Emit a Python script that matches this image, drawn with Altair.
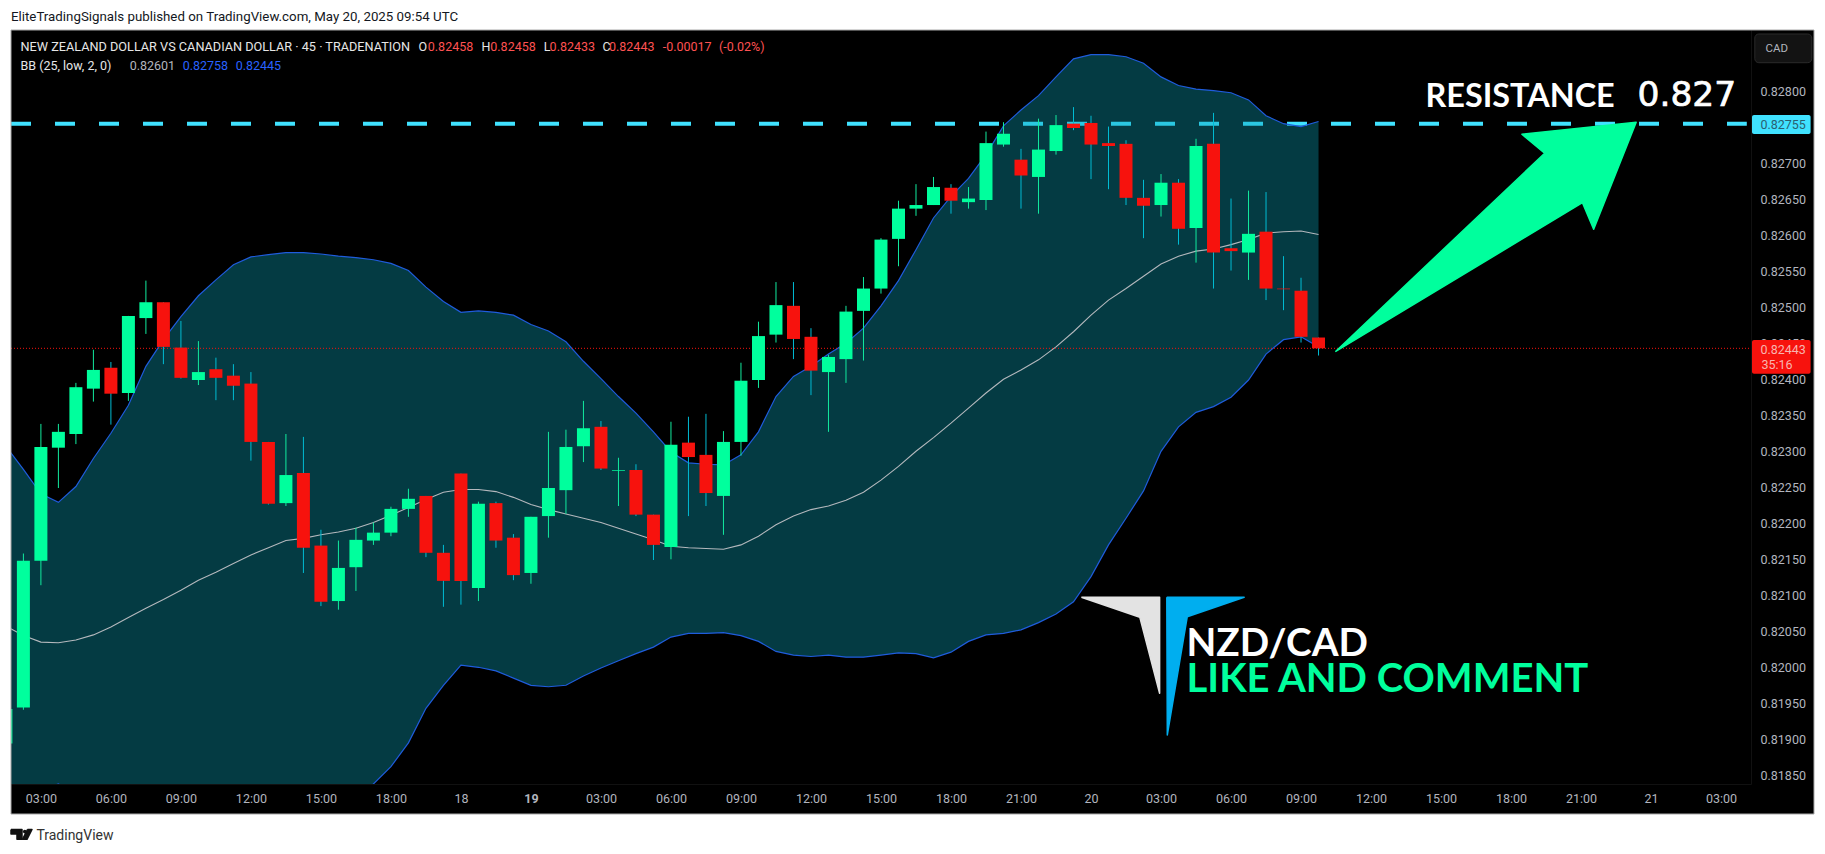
# NZD/CAD 45 min candles with Bollinger bands, TradingView style
import json

import altair as alt
import pandas as pd

bar_index = list(range(-1, 75))
bar_open = [0.81894, 0.81944, 0.82148, 0.82305, 0.82324, 0.82387, 0.82416, 0.82381, 0.82485, 0.82507,
            0.82444, 0.82399, 0.82414, 0.82405, 0.82394, 0.82313, 0.82228, 0.82270, 0.82169, 0.82092,
            0.82139, 0.82176, 0.82187, 0.82220, 0.82238, 0.82159, 0.82269, 0.82110, 0.82228, 0.82180,
            0.82131, 0.82210, 0.82246, 0.82307, 0.82334, 0.82273, 0.82274, 0.82212, 0.82167, 0.82312,
            0.82295, 0.82238, 0.82313, 0.82399, 0.82462, 0.82502, 0.82459, 0.82410, 0.82428, 0.82495,
            0.82526, 0.82595, 0.82637, 0.82642, 0.82666, 0.82646, 0.82649, 0.82726, 0.82705, 0.82681,
            0.82717, 0.82755, 0.82756, 0.82728, 0.82727, 0.82652, 0.82642, 0.82673, 0.82610, 0.82727,
            0.82582, 0.82576, 0.82605, 0.82526, 0.82523, 0.82458]
bar_high = [0.81942, 0.82158, 0.82338, 0.82338, 0.82395, 0.82441, 0.82424, 0.82488, 0.82537, 0.82507,
            0.82481, 0.82453, 0.82430, 0.82421, 0.82410, 0.82313, 0.82324, 0.82320, 0.82191, 0.82176,
            0.82194, 0.82201, 0.82223, 0.82248, 0.82238, 0.82170, 0.82269, 0.82230, 0.82230, 0.82185,
            0.82209, 0.82327, 0.82330, 0.82370, 0.82342, 0.82291, 0.82282, 0.82212, 0.82341, 0.82348,
            0.82352, 0.82328, 0.82423, 0.82480, 0.82535, 0.82535, 0.82471, 0.82434, 0.82502, 0.82542,
            0.82596, 0.82648, 0.82671, 0.82681, 0.82671, 0.82667, 0.82744, 0.82757, 0.82720, 0.82762,
            0.82767, 0.82778, 0.82766, 0.82751, 0.82732, 0.82677, 0.82685, 0.82678, 0.82734, 0.82770,
            0.82651, 0.82662, 0.82660, 0.82571, 0.82541, 0.82458]
bar_low = [0.81894, 0.81941, 0.82114, 0.82249, 0.82310, 0.82369, 0.82337, 0.82370, 0.82463, 0.82421,
           0.82401, 0.82392, 0.82371, 0.82371, 0.82287, 0.82226, 0.82224, 0.82131, 0.82085, 0.82080,
           0.82106, 0.82170, 0.82182, 0.82209, 0.82153, 0.82084, 0.82087, 0.82092, 0.82166, 0.82121,
           0.82116, 0.82180, 0.82213, 0.82285, 0.82274, 0.82224, 0.82210, 0.82149, 0.82150, 0.82210,
           0.82224, 0.82184, 0.82294, 0.82388, 0.82451, 0.82428, 0.82378, 0.82327, 0.82395, 0.82426,
           0.82519, 0.82557, 0.82627, 0.82642, 0.82630, 0.82637, 0.82635, 0.82723, 0.82637, 0.82630,
           0.82712, 0.82746, 0.82678, 0.82664, 0.82642, 0.82596, 0.82626, 0.82587, 0.82562, 0.82526,
           0.82551, 0.82538, 0.82510, 0.82496, 0.82451, 0.82433]
bar_close = [0.81942, 0.82148, 0.82306, 0.82327, 0.82389, 0.82413, 0.82380, 0.82488, 0.82507, 0.82445,
             0.82402, 0.82410, 0.82402, 0.82391, 0.82313, 0.82227, 0.82267, 0.82166, 0.82091, 0.82138,
             0.82177, 0.82187, 0.82220, 0.82234, 0.82159, 0.82120, 0.82120, 0.82227, 0.82176, 0.82128,
             0.82209, 0.82249, 0.82306, 0.82332, 0.82276, 0.82274, 0.82212, 0.82170, 0.82309, 0.82292,
             0.82242, 0.82313, 0.82398, 0.82460, 0.82503, 0.82456, 0.82412, 0.82431, 0.82494, 0.82526,
             0.82594, 0.82637, 0.82642, 0.82667, 0.82648, 0.82651, 0.82728, 0.82741, 0.82683, 0.82719,
             0.82753, 0.82749, 0.82726, 0.82724, 0.82652, 0.82641, 0.82673, 0.82609, 0.82724, 0.82576,
             0.82578, 0.82602, 0.82526, 0.82525, 0.82459, 0.82443]

bb_upper = [0.82307, 0.82275, 0.82241, 0.82229, 0.82251, 0.82290, 0.82325, 0.82364, 0.82418, 0.82455,
            0.82487, 0.82516, 0.82538, 0.82559, 0.82570, 0.82573, 0.82576, 0.82576, 0.82574, 0.82571,
            0.82569, 0.82566, 0.82561, 0.82551, 0.82528, 0.82508, 0.82493, 0.82495, 0.82493, 0.82489,
            0.82476, 0.82467, 0.82452, 0.82425, 0.82401, 0.82376, 0.82353, 0.82327, 0.82299, 0.82284,
            0.82282, 0.82281, 0.82295, 0.82327, 0.82376, 0.82404, 0.82418, 0.82435, 0.82450, 0.82471,
            0.82502, 0.82537, 0.82580, 0.82624, 0.82654, 0.82679, 0.82712, 0.82752, 0.82774, 0.82794,
            0.82820, 0.82845, 0.82851, 0.82851, 0.82848, 0.82839, 0.82820, 0.82808, 0.82803, 0.82801,
            0.82798, 0.82788, 0.82766, 0.82755, 0.82751, 0.82758]
bb_basis = [0.82057, 0.82044, 0.82035, 0.82034, 0.82038, 0.82045, 0.82056, 0.82069, 0.82082, 0.82094,
            0.82107, 0.82121, 0.82132, 0.82144, 0.82156, 0.82166, 0.82176, 0.82179, 0.82184, 0.82188,
            0.82193, 0.82201, 0.82211, 0.82222, 0.82233, 0.82243, 0.82247, 0.82247, 0.82244, 0.82236,
            0.82226, 0.82219, 0.82213, 0.82207, 0.82201, 0.82193, 0.82185, 0.82177, 0.82168, 0.82166,
            0.82165, 0.82164, 0.82170, 0.82182, 0.82198, 0.82210, 0.82219, 0.82224, 0.82232, 0.82243,
            0.82260, 0.82279, 0.82300, 0.82319, 0.82339, 0.82360, 0.82381, 0.82400, 0.82413, 0.82427,
            0.82445, 0.82466, 0.82489, 0.82510, 0.82526, 0.82543, 0.82560, 0.82571, 0.82578, 0.82581,
            0.82587, 0.82594, 0.82603, 0.82605, 0.82606, 0.82601]
bb_lower = [0.81798, 0.81810, 0.81829, 0.81838, 0.81825, 0.81800, 0.81786, 0.81773, 0.81747, 0.81732,
            0.81728, 0.81727, 0.81727, 0.81728, 0.81742, 0.81759, 0.81776, 0.81783, 0.81794, 0.81805,
            0.81817, 0.81838, 0.81862, 0.81895, 0.81943, 0.81975, 0.82003, 0.82000, 0.81995, 0.81985,
            0.81975, 0.81973, 0.81975, 0.81988, 0.81999, 0.82009, 0.82019, 0.82028, 0.82042, 0.82047,
            0.82047, 0.82048, 0.82044, 0.82036, 0.82022, 0.82017, 0.82015, 0.82017, 0.82014, 0.82014,
            0.82017, 0.82020, 0.82019, 0.82013, 0.82021, 0.82036, 0.82045, 0.82047, 0.82052, 0.82062,
            0.82074, 0.82091, 0.82126, 0.82170, 0.82207, 0.82245, 0.82300, 0.82334, 0.82354, 0.82362,
            0.82375, 0.82399, 0.82435, 0.82455, 0.82459, 0.82445]

resistance_price = 0.82755
last_price = 0.82443

price_ticks = [0.8185, 0.819, 0.8195, 0.82, 0.8205, 0.821, 0.8215, 0.822, 0.8225, 0.823, 0.8235,
               0.824, 0.8245, 0.825, 0.8255, 0.826, 0.8265, 0.827, 0.8275, 0.828]
time_ticks = [1, 5, 9, 13, 17, 21, 25, 29, 33, 37, 41, 45, 49, 53, 57, 61, 65, 69, 73,
              77, 81, 85, 89, 93, 97]
time_labels = ['03:00', '06:00', '09:00', '12:00', '15:00', '18:00', '18', '19', '03:00', '06:00',
               '09:00', '12:00', '15:00', '18:00', '21:00', '20', '03:00', '06:00', '09:00',
               '12:00', '15:00', '18:00', '21:00', '21', '03:00']

# drawings, in bar / price units
arrow_x = [74.96, 86.92, 85.62, 92.15, 89.72, 89.08]
arrow_y = [0.824383, 0.827139, 0.827403, 0.827569, 0.826083, 0.826453]
logo_grey_x = [60.45, 64.92, 64.92, 63.79]
logo_grey_y = [0.820972, 0.820972, 0.819639, 0.820694]
logo_blue_x = [65.33, 69.75, 66.50, 65.36]
logo_blue_y = [0.820972, 0.820972, 0.820703, 0.819060]
tv_left_x = [-0.708, -0.08, -0.08, -0.366, -0.366, -0.708]
tv_left_y = [0.817747, 0.817747, 0.817611, 0.817611, 0.817685, 0.817685]
tv_slash_x = [0.234, 0.491, 0.206, -0.051]
tv_slash_y = [0.817747, 0.817747, 0.817611, 0.817611]

GREEN = '#00ff9d'
RED = '#f7120d'
CYAN = '#40e2ff'
BLUE = '#1f5cdc'
GREY = '#b2b5be'
FONT = 'Roboto'

df = pd.DataFrame({'bar': bar_index, 'open': bar_open, 'high': bar_high, 'low': bar_low, 'close': bar_close,
                   'upper': bb_upper, 'basis': bb_basis, 'lower': bb_lower})
df['dir'] = ['up' if c >= o else 'down' for o, c in zip(bar_open, bar_close)]

# padding=0 or the bars make Vega-Lite shrink the range
x_scale = alt.Scale(domain=[-0.708, 98.71], nice=False, zero=False, padding=0)
y_scale = alt.Scale(domain=[0.818379, 0.828851], nice=False, zero=False)
x_axis = alt.Axis(title=None, values=time_ticks, grid=False, ticks=False, domainColor='#111111',
                  labelColor=GREY, labelFont=FONT, labelFontSize=12.5, labelPadding=8, labelOverlap=False,
                  labelBound=False, labelFlush=False, labelAngle=0, zindex=0,
                  labelFontWeight={'condition': {'test': 'datum.value == 29', 'value': 'bold'}, 'value': 'normal'},
                  labelExpr=json.dumps(time_labels) + '[indexof(' + json.dumps(time_ticks) + ', datum.value)]')
y_axis = alt.Axis(title=None, orient='right', values=price_ticks, format='.5f', grid=False, ticks=False,
                  domainColor='#111111', labelColor=GREY, labelFont=FONT, labelFontSize=12.5, labelPadding=9,
                  labelOverlap=False, labelBound=False, labelFlush=False, zindex=0)


def px(field):
    return alt.X(field + ':Q', scale=x_scale, axis=x_axis)


def py(field):
    return alt.Y(field + ':Q', scale=y_scale, axis=y_axis)


def text(s, x, y, color, size, weight='normal', font=FONT, **style):
    # x, y are page pixels, the plot starts at (11, 30)
    return alt.Chart(pd.DataFrame({'t': [s]})).mark_text(
        align='left', baseline='middle', color=color, fontSize=size, fontWeight=weight, font=font, **style
    ).encode(x=alt.value(x - 11), y=alt.value(y - 30), text='t:N')


def box(x0, y0, x1, y1, **style):
    return alt.Chart(pd.DataFrame({'a': [0]})).mark_rect(**style).encode(
        x=alt.value(x0 - 11), x2=alt.value(x1 - 11), y=alt.value(y0 - 30), y2=alt.value(y1 - 30))


def polygon(xs, ys, color, clip=True):
    d = pd.DataFrame({'x': xs + xs[:1], 'y': ys + ys[:1], 'i': range(len(xs) + 1)})
    return alt.Chart(d).mark_line(fill=color, stroke=color, strokeWidth=1.5, strokeJoin='round', clip=clip).encode(
        x=px('x'), y=py('y'), order='i:Q')


base = alt.Chart(df)

resistance = alt.Chart(pd.DataFrame({'p': [resistance_price]})).mark_rule(
    color=CYAN, strokeWidth=4, strokeDash=[20, 24]).encode(x=alt.value(0), x2=alt.value(1735.8), y=py('p'))
band = base.mark_area(color='#0a9bb0', opacity=0.38, clip=True).encode(x=px('bar'), y=py('upper'), y2=alt.Y2('lower'))
upper = base.mark_line(color=BLUE, strokeWidth=1.2, clip=True).encode(x=px('bar'), y=py('upper'))
lower = base.mark_line(color=BLUE, strokeWidth=1.2, clip=True).encode(x=px('bar'), y=py('lower'))
basis = base.mark_line(color='#b4b8bd', strokeWidth=1.1, clip=True).encode(x=px('bar'), y=py('basis'))
last_line = alt.Chart(pd.DataFrame({'p': [last_price]})).mark_rule(
    color=RED, strokeWidth=1, strokeDash=[1, 2]).encode(x=alt.value(0), x2=alt.value(1740), y=py('p'))

dir_scale = alt.Scale(domain=['up', 'down'], range=['#12eb9f', '#00bcd4'])
wicks = base.mark_rule(strokeWidth=1, clip=True).encode(
    x=px('bar'), y=py('low'), y2=alt.Y2('high'), color=alt.Color('dir:N', scale=dir_scale, legend=None))
bodies = base.mark_bar(size=13, clip=True).encode(
    x=px('bar'), y=py('open'), y2=alt.Y2('close'),
    fill=alt.Fill('dir:N', scale=alt.Scale(domain=['up', 'down'], range=[GREEN, RED]), legend=None))

layers = [resistance, band, upper, lower, basis, last_line, wicks, bodies,
          polygon(logo_grey_x, logo_grey_y, '#e3e3e3'), polygon(logo_blue_x, logo_blue_y, '#00aeef'),
          polygon(arrow_x, arrow_y, GREEN)]

# page around the black pane
layers += [box(8, 8, 1817, 30, color='#ffffff'), box(8, 814, 1817, 844, color='#ffffff'),
           box(8, 30, 11, 814, color='#ffffff'), box(1814, 30, 1817, 814, color='#ffffff'),
           box(11, 30, 1814, 814, fillOpacity=0, stroke='#a8a8a8', strokeWidth=1)]

layers += [
    text('EliteTradingSignals published on TradingView.com, May 20, 2025 09:54 UTC', 11, 16.5, '#131722', 13.3),
    text('NEW ZEALAND DOLLAR VS CANADIAN DOLLAR · 45 · TRADENATION', 20.5, 46.5, '#e6e6e6', 12.7),
    text('O', 418.4, 46.5, '#e6e6e6', 12.5), text('0.82458', 427.8, 46.5, '#ff5252', 12.5),
    text('H', 481.6, 46.5, '#e6e6e6', 12.5), text('0.82458', 490.3, 46.5, '#ff5252', 12.5),
    text('L', 543.7, 46.5, '#e6e6e6', 12.5), text('0.82433', 549.6, 46.5, '#ff5252', 12.5),
    text('C', 602.6, 46.5, '#e6e6e6', 12.5), text('0.82443', 609, 46.5, '#ff5252', 12.5),
    text('-0.00017', 662.7, 46.5, '#ff5252', 12.5), text('(-0.02%)', 718.9, 46.5, '#ff5252', 12.5),
    text('BB (25, low, 2, 0)', 20.5, 65.7, '#e6e6e6', 12.5), text('0.82601', 129.7, 65.7, GREY, 12.5),
    text('0.82758', 182.7, 65.7, '#2962ff', 12.5), text('0.82445', 235.7, 65.7, '#2962ff', 12.5),
    text('RESISTANCE', 1425.5, 96.5, '#ffffff', 32.4, 'bold', 'Lato'),
    text('0.827', 1637.5, 96, '#ffffff', 34.5, 'normal', 'DejaVu Sans', stroke='#ffffff', strokeWidth=0.7),
    text('NZD/CAD', 1186.5, 644, '#ffffff', 38.7, 'bold', 'Lato'),
    text('LIKE AND COMMENT', 1186.5, 680, GREEN, 40, 'bold', 'Lato'),
    text('TradingView', 36.4, 835.5, '#333333', 14),
]

# price tags and the currency button sit over the axis
layers += [
    box(1752, 115, 1810.6, 134, color=CYAN, cornerRadius=2),
    text('0.82755', 1760.4, 124.8, '#2a5f70', 12.5),
    box(1752, 340, 1810.6, 373.7, color=RED, cornerRadius=2),
    text('0.82443', 1760.4, 349.5, '#f7b5b0', 12.5),
    text('35:16', 1761.5, 364.7, '#f7b5b0', 12.5),
    box(1754.8, 34, 1811.8, 62.7, color='#131313', stroke='#2a2a2a', strokeWidth=1, cornerRadius=4),
    text('CAD', 1765.6, 48.5, GREY, 11.5),
    polygon(tv_left_x, tv_left_y, '#111111', clip=False),
    polygon(tv_slash_x, tv_slash_y, '#111111', clip=False),
    alt.Chart(pd.DataFrame({'x': [0.08], 'y': [0.817719]})).mark_circle(color='#111111', size=14, opacity=1).encode(
        x=px('x'), y=py('y')),
]

chart = alt.layer(*layers).resolve_scale(color='independent', fill='independent').properties(
    width=1740, height=754, background='#000000',
    padding={'left': 3, 'top': 22, 'right': 66, 'bottom': 60},
    autosize=alt.AutoSizeParams(type='none'),
).configure_view(strokeWidth=0)

chart.save("out.html", embed_options={"renderer": "svg", "actions": False})
